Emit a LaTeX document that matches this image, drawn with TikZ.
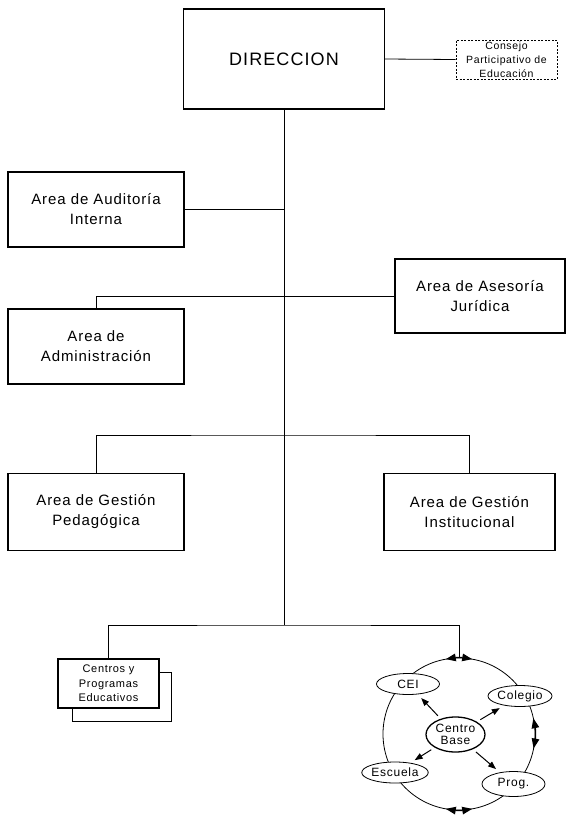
\documentclass[tikz,border=0pt]{standalone}
\usepackage{fontspec}
\setmainfont{Liberation Sans}[LetterSpace=6]
\usetikzlibrary{arrows.meta,shapes.geometric}

\begin{document}
\begin{tikzpicture}[x=1pt,y=-1pt,
    unit/.style={draw,line width=1.3pt,fill=white,inner sep=0pt,align=center,
      minimum width=176pt,minimum height=75pt,font=\fontsize{15}{20}\selectfont},
    council/.style={draw,line width=0.8pt,dash pattern=on 2pt off 1.5pt,inner sep=0pt,
      align=center,font=\fontsize{10.5}{14}\selectfont},
    centre/.style={ellipse,draw,line width=0.8pt,fill=white,inner sep=0pt,align=center,
      minimum width=63pt,minimum height=21pt,font=\fontsize{12}{12.5}\selectfont},
    link/.style={line width=0.8pt},
    tip/.tip={Triangle[length=8pt,width=6pt]},
    bigtip/.tip={Triangle[length=10pt,width=7.5pt]},
    flow/.style={-tip,line width=1pt,shorten <=4pt,shorten >=5pt},
    both/.style={bigtip-bigtip,line width=1.2pt}
  ]
  \useasboundingbox[fill=white] (0,0) rectangle (566,815);

  % top
  \node[unit,minimum width=201pt,minimum height=100pt,font=\fontsize{18}{22}\selectfont] (dir) at (284,59) {DIRECCION};
  \node[council,minimum width=101pt,minimum height=39pt] (cons) at (506.5,59.5) {Consejo\\Participativo de\\Educación};

  % areas
  \node[unit] (aud) at (96,209.5) {Area de Auditoría\\Interna};
  \node[unit,minimum width=170pt,minimum height=74pt] (ases) at (480,296) {Area de Asesoría\\Jurídica};
  \node[unit] (adm) at (96,346.5) {Area de\\Administración};
  \node[unit,minimum height=77pt] (ped) at (96,512) {Area de Gestión\\Pedagógica};
  \node[unit,minimum width=171pt,minimum height=77pt] (inst) at (469.5,512) {Area de Gestión\\Institucional};

  % centros
  \node[draw,line width=0.8pt,minimum width=99pt,minimum height=49pt] (cenback) at (121.5,696.5) {};
  \node[unit,minimum width=101pt,minimum height=49pt,font=\fontsize{11}{14.5}\selectfont] (cen) at (108.5,683.5) {Centros y\\Programas\\Educativos};

  % red
  \node[circle,draw,line width=0.8pt,minimum size=152pt,inner sep=0pt] (ring) at (459,734) {};
  \node[centre] (cei) at (408,684) {CEI};
  \node[centre,minimum width=64pt] (col) at (520,696) {Colegio};
  \node[centre,minimum width=59pt,minimum height=35pt,line width=1.3pt] (cb) at (455.5,734.5) {Centro\\Base};
  \node[centre] (esc) at (395,772.5) {Escuela};
  \node[centre,minimum height=25pt] (prog) at (513.5,784) {Prog.};

  \coordinate (tA) at (284,209.5);
  \coordinate (tG) at (284,435);
  \coordinate (tC) at (284,625);

  \draw[link] (dir.east) -- (cons.west);
  \draw[link] (dir.south) -- (tC);
  \draw[link] (aud.east) -- (tA);
  \draw[link] (adm.north) |- (ases.west);
  \draw[link] (ped.north) |- (tG) -| (inst.north);
  \draw[link] (cen.north) |- (tC) -| (ring.north);

  \foreach \t in {cei,col,esc,prog}
    \draw[flow] (cb) -- (\t);

  \draw[both] ([shift={(80:76pt)}]ring.center) arc[start angle=80,end angle=100,radius=76pt];
  \draw[both] ([shift={(260:76pt)}]ring.center) arc[start angle=260,end angle=280,radius=76pt];
  \draw[both] ([shift={(-11:76pt)}]ring.center) arc[start angle=-11,end angle=12,radius=76pt];
\end{tikzpicture}
\end{document}
